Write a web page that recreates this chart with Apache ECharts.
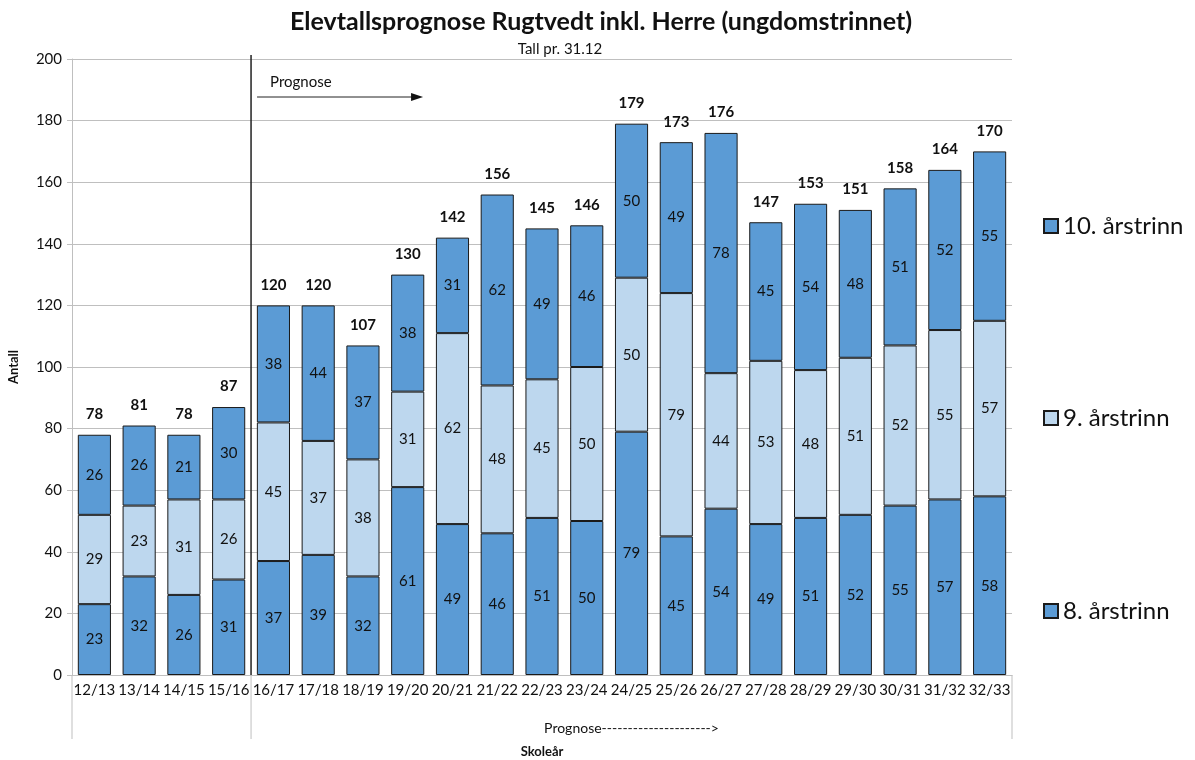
<!DOCTYPE html>
<html>
<head>
<meta charset="utf-8">
<script src="https://cdn.jsdelivr.net/npm/echarts@6/dist/echarts.min.js"></script>
<style>
  html, body { margin: 0; padding: 0; background: #fff; }
  #myChart { width: 1195px; height: 760px; }
</style>
</head>
<body>
<div id="myChart"></div>
<script>
// skoleår
var years = ["12/13", "13/14", "14/15", "15/16", "16/17", "17/18", "18/19", "19/20", "20/21", "21/22", "22/23",
  "23/24", "24/25", "25/26", "26/27", "27/28", "28/29", "29/30", "30/31", "31/32", "32/33"];
var trinn8 = [23, 32, 26, 31, 37, 39, 32, 61, 49, 46, 51, 50, 79, 45, 54, 49, 51, 52, 55, 57, 58];
var trinn9 = [29, 23, 31, 26, 45, 37, 38, 31, 62, 48, 45, 50, 50, 79, 44, 53, 48, 51, 52, 55, 57];
var trinn10 = [26, 26, 21, 30, 38, 44, 37, 38, 31, 62, 49, 46, 50, 49, 78, 45, 54, 48, 51, 52, 55];
var totals = [78, 81, 78, 87, 120, 120, 107, 130, 142, 156, 145, 146, 179, 173, 176, 147, 153, 151, 158, 164, 170];
var yTicks = [0, 20, 40, 60, 80, 100, 120, 140, 160, 180, 200];
var firstPrognose = "16/17";

var font = "Lato, 'Open Sans', sans-serif";
var dark = "#5b9bd5";
var light = "#bdd7ee";

var myChart = echarts.init(document.getElementById("myChart"));

function barSeries(name, data, color) {
  return {
    name: name,
    type: "bar",
    stack: "elever",
    data: data,
    barWidth: "74%",
    barGap: "-100%",
    itemStyle: { color: color, borderColor: "#1a1a1a", borderWidth: 1 },
    label: {
      show: true,
      position: "inside",
      color: "#111",
      fontSize: 15,
      fontFamily: font
    }
  };
}

function legendAt(name, top) {
  return {
    data: [name],
    left: 1038,
    top: top,
    orient: "vertical",
    icon: "rect",
    itemWidth: 14,
    itemHeight: 14,
    itemGap: 6,
    selectedMode: false,
    textStyle: { fontSize: 24, color: "#111", fontFamily: font }
  };
}

myChart.setOption({
  animation: false,
  textStyle: { fontFamily: font },
  title: [
    {
      text: "Elevtallsprognose Rugtvedt inkl. Herre (ungdomstrinnet)",
      left: 596, top: 4, textAlign: "center",
      textStyle: { fontSize: 25, fontWeight: "bold", color: "#111", fontFamily: font }
    },
    {
      text: "Tall pr. 31.12",
      left: 555, top: 37, textAlign: "center",
      textStyle: { fontSize: 15, fontWeight: "normal", color: "#111", fontFamily: font }
    }
  ],
  legend: [
    legendAt("10. årstrinn", 209),
    legendAt("9. årstrinn", 401),
    legendAt("8. årstrinn", 594)
  ],
  grid: { left: 72, right: 183, top: 59, bottom: 85, outerBoundsMode: "none" },
  xAxis: {
    type: "category",
    data: years,
    name: "Skoleår",
    nameLocation: "middle",
    nameGap: 70,
    nameTextStyle: { fontSize: 13, fontWeight: "bold", color: "#111" },
    axisLine: { lineStyle: { color: "#bfbfbf" } },
    axisTick: { length: 30, lineStyle: { color: "#d0d0d0" } },
    axisLabel: { fontSize: 15, color: "#111", margin: 8, interval: 0 }
  },
  yAxis: {
    type: "value",
    min: yTicks[0],
    max: yTicks[yTicks.length - 1],
    interval: yTicks[1] - yTicks[0],
    name: "Antall",
    nameLocation: "middle",
    nameGap: 52,
    nameRotate: 90,
    nameTextStyle: { fontSize: 13, fontWeight: "bold", color: "#111" },
    axisLine: { show: true, lineStyle: { color: "#bfbfbf" } },
    axisTick: { show: true, length: 5, lineStyle: { color: "#bfbfbf" } },
    axisLabel: { fontSize: 15, color: "#111", margin: 10 },
    splitLine: { lineStyle: { color: "#bfbfbf" } }
  },
  series: [
    barSeries("8. årstrinn", trinn8, dark),
    barSeries("9. årstrinn", trinn9, light),
    barSeries("10. årstrinn", trinn10, dark),
    {
      // usynlig søyle som bare bærer totalsummen
      name: "Totalt",
      type: "bar",
      data: totals,
      barWidth: "74%",
      barGap: "-100%",
      silent: true,
      z: 1,
      itemStyle: { color: "rgba(0,0,0,0)", borderWidth: 0 },
      label: {
        show: true,
        position: "top",
        distance: 13,
        fontSize: 15,
        fontWeight: "bold",
        color: "#111",
        fontFamily: font
      }
    }
  ]
});

// skillelinje mellom historikk og prognose
var i0 = years.indexOf(firstPrognose);
var band = myChart.convertToPixel({ xAxisIndex: 0 }, years[1]) - myChart.convertToPixel({ xAxisIndex: 0 }, years[0]);
var xDiv = myChart.convertToPixel({ xAxisIndex: 0 }, years[i0]) - band / 2;
var xLeft = myChart.convertToPixel({ xAxisIndex: 0 }, years[0]) - band / 2;
var xRight = myChart.convertToPixel({ xAxisIndex: 0 }, years[years.length - 1]) + band / 2;
var yTop = myChart.convertToPixel({ yAxisIndex: 0 }, yTicks[yTicks.length - 1]);
var yZero = myChart.convertToPixel({ yAxisIndex: 0 }, 0);

myChart.setOption({
  graphic: [
    { type: "line", shape: { x1: xDiv, y1: yTop - 4, x2: xDiv, y2: yZero }, style: { stroke: "#222", lineWidth: 1.5 }, z: 50 },
    { type: "line", shape: { x1: xLeft, y1: yZero, x2: xLeft, y2: yZero + 64 }, style: { stroke: "#bfbfbf", lineWidth: 1 } },
    { type: "line", shape: { x1: xDiv, y1: yZero, x2: xDiv, y2: yZero + 64 }, style: { stroke: "#bfbfbf", lineWidth: 1 } },
    { type: "line", shape: { x1: xRight, y1: yZero, x2: xRight, y2: yZero + 64 }, style: { stroke: "#bfbfbf", lineWidth: 1 } },
    {
      type: "text", x: (xDiv + xRight) / 2, y: yZero + 53,
      style: { text: "Prognose--------------------->", fontSize: 14, fill: "#111", fontFamily: font, align: "center", verticalAlign: "middle" }
    },
    {
      type: "text", x: xDiv + 19, y: yTop + 23,
      style: { text: "Prognose", fontSize: 15, fill: "#111", fontFamily: font, align: "left", verticalAlign: "middle" }
    },
    { type: "line", shape: { x1: xDiv + 6, y1: yTop + 38, x2: xDiv + 162, y2: yTop + 38 }, style: { stroke: "#222", lineWidth: 1 } },
    { type: "polygon", shape: { points: [[xDiv + 160, yTop + 34], [xDiv + 172, yTop + 38], [xDiv + 160, yTop + 42]] }, style: { fill: "#111" } }
  ]
});
</script>
</body>
</html>
